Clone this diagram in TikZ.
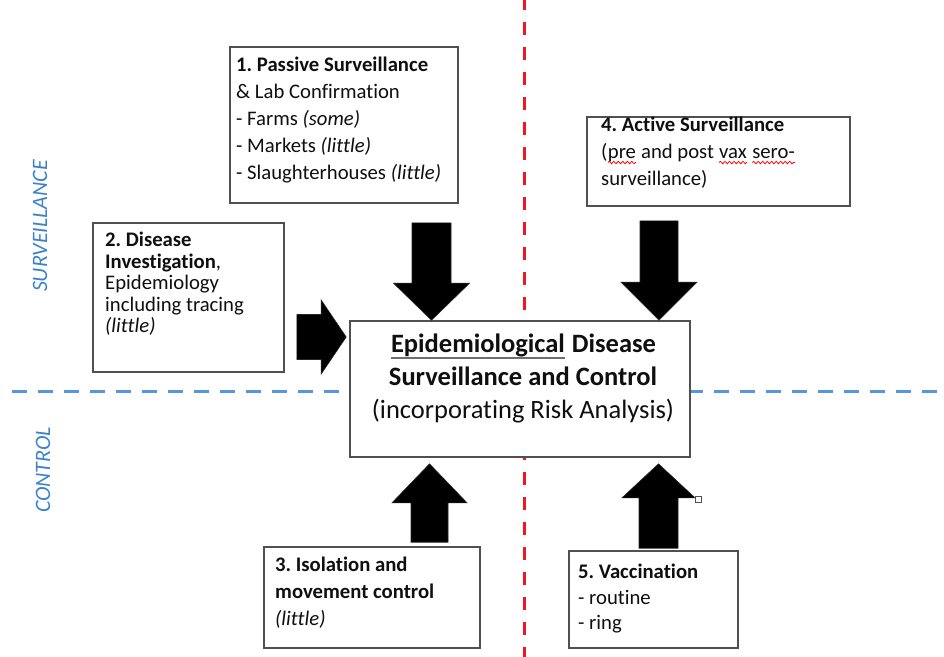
\documentclass[tikz,border=0pt]{standalone}
\usepackage{fontspec}
\setmainfont{Carlito}[Ligatures=NoCommon]
\usetikzlibrary{calc,decorations.pathmorphing}
\frenchspacing

\definecolor{txt}{RGB}{15,15,15}
\definecolor{boxline}{RGB}{80,80,80}
\definecolor{axisred}{RGB}{235,25,35}
\definecolor{axisblue}{RGB}{85,150,220}
\definecolor{labelblue}{RGB}{60,130,205}
\definecolor{ulgray}{RGB}{110,110,110}

% thick grey underline below a word
\newcommand\grayul[1]{\tikz[baseline=(u.base)]{\node[inner sep=0pt,outer sep=0pt](u){#1};\draw[ulgray,line width=2pt]([yshift=-5pt]u.base west)--([yshift=-5pt]u.base east);}}
% red wavy spell-check underline
\newcommand\squig[1]{\tikz[baseline=(s.base)]{\node[inner sep=0pt,outer sep=0pt](s){#1};\draw[red,line width=0.8pt,decorate,decoration={snake,amplitude=1.2pt,segment length=4.5pt}]([yshift=-3.8pt]s.base west)--([yshift=-3.8pt]s.base east);}}
% vertical block arrow: start, tip, half shaft, half head, head base offset from tip
\newcommand\vblockarrow[5]{\filldraw[blockarrow] ($(#1)+(-#3,0)$) -- ($(#1)+(#3,0)$) -- ($(#2)+(#3,#5)$) -- ($(#2)+(#4,#5)$) -- (#2) -- ($(#2)+(-#4,#5)$) -- ($(#2)+(-#3,#5)$) -- cycle;}

\begin{document}
\begin{tikzpicture}[x=1pt,y=-1pt,
  box/.style={draw=boxline,line width=1.6pt,fill=white,inner sep=0pt},
  boxtext/.style={anchor=north west,inner sep=0pt,align=left,text=txt,font=\fontsize{20.7}{27}\selectfont},
  blockarrow/.style={fill=black,draw=black!85,line width=0.6pt,line join=miter},
  axislabel/.style={text=labelblue,font=\fontsize{22}{24}\selectfont\itshape,rotate=90}]

\useasboundingbox (0,0) rectangle (944,656);
\fill[white] (0,0) rectangle (944,656);

% quadrant dividers
\coordinate (vtop) at (524,-3);
\coordinate (vbot) at (524,660);
\draw[axisred,line width=3pt,dash pattern=on 13pt off 12pt] (vtop) -- (vbot);
\coordinate (hl) at (12,391);
\coordinate (hr) at (950,391);
\draw[axisblue,line width=3pt,dash pattern=on 15pt off 11pt] (hl) -- (hr);

% side labels
\node[axislabel] (survlabel) at (40,226) {SURVEILLANCE};
\node[axislabel] (ctrllabel) at (43,470) {CONTROL};

% boxes
\node[box,minimum width=340pt,minimum height=136pt] (centre) at (520,389) {};
\node[box,minimum width=228pt,minimum height=156pt] (passive) at (344,125) {};
\node[box,minimum width=191pt,minimum height=149pt] (investig) at (188.5,297.5) {};
\node[box,minimum width=263pt,minimum height=89pt] (active) at (718.5,161.5) {};
\node[box,minimum width=216pt,minimum height=101pt] (isolation) at (372,597.5) {};
\node[box,minimum width=169pt,minimum height=97pt] (vaccin) at (653.5,599.5) {};

% box texts
\node[anchor=north,inner sep=0pt,align=center,text=txt,font=\fontsize{26.5}{33}\selectfont] (centretext) at (523,334)
  {\textbf{\grayul{Epidemiological} Disease}\\ \textbf{Surveillance and Control}\\ (incorporating Risk Analysis)};
\node[boxtext] (passivetext) at (236,57)
  {\textbf{1. Passive Surveillance}\\ \& Lab Confirmation\\ - Farms \textit{(some)}\\ - Markets \textit{(little)}\\ - Slaughterhouses \textit{(little)}};
\node[boxtext,font=\fontsize{20.7}{21.5}\selectfont] (investigtext) at (105,232)
  {\textbf{2. Disease}\\ \textbf{Investigation},\\ Epidemiology\\ including tracing\\ \textit{(little)}};
\node[boxtext] (activetext) at (601,117)
  {\textbf{4. Active Surveillance}\\ (\squig{pre} and post \squig{vax} \squig{sero-}\\ surveillance)};
\node[boxtext] (isolationtext) at (275,557)
  {\textbf{3. Isolation and}\\ \textbf{movement control}\\ \textit{(little)}};
\node[boxtext,font=\fontsize{20.7}{25.5}\selectfont] (vaccintext) at (578,564)
  {\textbf{5. Vaccination}\\ - routine\\ - ring};

% block arrows into the central box
\coordinate (a1s) at ($(passive.south -| 431.5,0)+(0,19)$);
\coordinate (a1t) at (centre.north -| a1s);
\vblockarrow{a1s}{a1t}{19.5}{38}{-37}

\coordinate (a4s) at ($(active.south -| 659,0)+(0,14)$);
\coordinate (a4t) at (centre.north -| a4s);
\vblockarrow{a4s}{a4t}{19}{38}{-38}

\coordinate (a3s) at ($(isolation.north -| 429.5,0)+(0,-4)$);
\coordinate (a3t) at ($(centre.south -| a3s)+(0,6)$);
\vblockarrow{a3s}{a3t}{18.5}{37.5}{39}

\coordinate (a5s) at ($(vaccin.north -| 658.5,0)+(0,-2)$);
\coordinate (a5t) at ($(centre.south -| a5s)+(0,6)$);
\vblockarrow{a5s}{a5t}{19.5}{36.5}{34}

\coordinate (a2s) at ($(investig.east |- 0,337)+(12,0)$);
\coordinate (a2t) at ($(centre.west |- a2s)+(-3,0)$);
\filldraw[blockarrow] ($(a2s)+(0,-22.5)$) -- ($(a2t)+(-25,-22.5)$) -- ($(a2t)+(-25,-37)$) -- (a2t)
  -- ($(a2t)+(-25,37)$) -- ($(a2t)+(-25,22.5)$) -- ($(a2s)+(0,22.5)$) -- cycle;

% small resize handle
\node[draw=boxline,line width=0.8pt,fill=white,minimum size=6pt,inner sep=0pt] (handle) at (698,499) {};
\end{tikzpicture}
\end{document}
